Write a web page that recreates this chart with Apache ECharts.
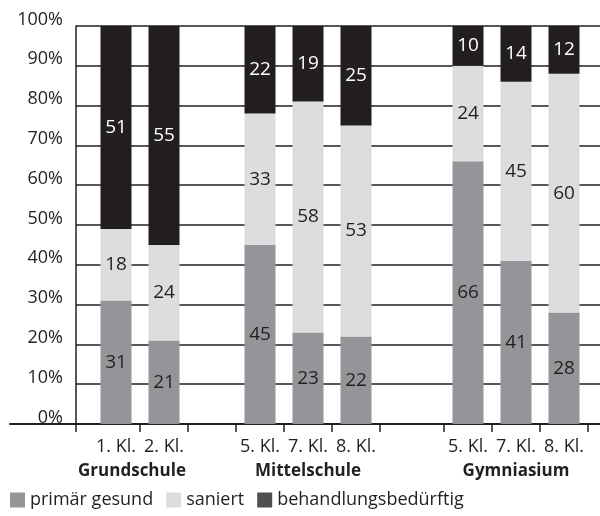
<!DOCTYPE html>
<html>
<head>
<meta charset="utf-8">
<script src="https://cdn.jsdelivr.net/npm/echarts@6/dist/echarts.min.js"></script>
<style>
  html, body { margin: 0; padding: 0; background: #fff; }
  #chart { width: 600px; height: 516px; }
</style>
</head>
<body>
<div id="chart"></div>
<script>
// Zahnstatus nach Schulart und Klassenstufe, Anteile in Prozent
const schools = ['Grundschule', 'Mittelschule', 'Gymniasium'];
const classesPerSchool = [
  ['1. Kl.', '2. Kl.'],
  ['5. Kl.', '7. Kl.', '8. Kl.'],
  ['5. Kl.', '7. Kl.', '8. Kl.']
];
const seriesNames = ['primär gesund', 'saniert', 'behandlungsbedürftig'];
const primaerGesund = [31, 21, 45, 23, 22, 66, 41, 28];
const saniert = [18, 24, 33, 58, 53, 24, 45, 60];
const behandlungsbeduerftig = [51, 55, 22, 19, 25, 10, 14, 12];
const percentMax = 100;
const percentStep = 10;

// Band axis layout: every class takes three narrow slots, schools are separated by empty slots
const SLOTS_PER_BAR = 3;
const LEAD_SLOTS = 1;
const GAP_SLOTS = [3, 4];
const TRAIL_SLOTS = 1;
const SLOT_PX = 16;

const INK = '#231f20';
const COLORS = ['#939598', '#dcddde', '#231f20'];
const FONT = '"Open Sans", "Noto Sans", sans-serif';

let slot = LEAD_SLOTS;
const barSlots = [];
const groupLabelSlots = [];
const tickSlots = new Set([0]);
classesPerSchool.forEach((cls, g) => {
  if (g > 0) { slot += GAP_SLOTS[g - 1]; tickSlots.add(slot); }
  const start = slot;
  cls.forEach(() => {
    barSlots.push(slot + 1);
    slot += SLOTS_PER_BAR;
    tickSlots.add(slot);
  });
  groupLabelSlots.push(Math.floor((start + slot - 1) / 2));
});
const slotCount = slot + TRAIL_SLOTS;

const classLabels = new Array(slotCount).fill('');
classesPerSchool.flat().forEach((c, i) => { classLabels[barSlots[i]] = c; });
const schoolLabels = new Array(slotCount).fill('');
schools.forEach((s, i) => { schoolLabels[groupLabelSlots[i]] = s; });

function spread(values) {
  const out = new Array(slotCount).fill(null);
  values.forEach((v, i) => { out[barSlots[i]] = v; });
  return out;
}

const seriesValues = [primaerGesund, saniert, behandlungsbeduerftig];
const labelColors = [INK, INK, '#ffffff'];

const chart = echarts.init(document.getElementById('chart'), null, { renderer: 'canvas' });

chart.setOption({
  animation: false,
  backgroundColor: '#ffffff',
  textStyle: { fontFamily: FONT },
  grid: [
    { left: 76, top: 26, bottom: 92, width: slotCount * SLOT_PX, containLabel: false, outerBoundsMode: 'none' },
    { left: 10, top: 26, bottom: 92, width: 66, containLabel: false, outerBoundsMode: 'none' }
  ],
  legend: {
    left: 10,
    top: 491,
    padding: 0,
    icon: 'rect',
    itemWidth: 15,
    itemHeight: 15,
    itemGap: 13,
    textStyle: { fontFamily: FONT, fontSize: 18, color: INK },
    data: seriesNames.map((n, i) => ({
      name: n,
      itemStyle: { color: i === 2 ? '#4f4f51' : COLORS[i] }
    }))
  },
  xAxis: [
    {
      type: 'category',
      gridIndex: 0,
      data: classLabels,
      boundaryGap: true,
      axisLine: { show: true, lineStyle: { color: INK, width: 2 } },
      axisTick: {
        show: true,
        interval: (index) => tickSlots.has(index),
        length: 8,
        lineStyle: { color: INK, width: 1.5 }
      },
      axisLabel: {
        interval: 0,
        margin: 14,
        fontFamily: FONT,
        fontSize: 18,
        color: INK
      },
      splitLine: { show: false }
    },
    {
      type: 'category',
      gridIndex: 0,
      position: 'bottom',
      data: schoolLabels,
      axisLine: { show: false },
      axisTick: { show: false },
      axisLabel: {
        interval: 0,
        margin: 39,
        fontFamily: FONT,
        fontSize: 17,
        fontWeight: 'bold',
        color: INK
      },
      splitLine: { show: false }
    },
    {
      type: 'value',
      gridIndex: 1,
      min: 0,
      max: 1,
      axisLine: { show: true, lineStyle: { color: INK, width: 2 } },
      axisTick: { show: false },
      axisLabel: { show: false },
      splitLine: { show: false }
    }
  ],
  yAxis: [
    {
      type: 'value',
      gridIndex: 0,
      min: 0,
      max: percentMax,
      interval: percentStep,
      axisLine: { show: true, lineStyle: { color: INK, width: 1.5 } },
      axisTick: { show: false },
      axisLabel: {
        formatter: '{value}%',
        margin: 13,
        fontFamily: FONT,
        fontSize: 18,
        color: INK,
        verticalAlign: 'bottom',
        lineHeight: 13
      },
      splitLine: { show: true, lineStyle: { color: INK, width: 1.5 } }
    },
    {
      type: 'value',
      gridIndex: 1,
      min: 0,
      max: 1,
      show: false
    }
  ],
  series: seriesValues.map((vals, i) => ({
    name: seriesNames[i],
    type: 'bar',
    xAxisIndex: 0,
    yAxisIndex: 0,
    stack: 'anteil',
    barWidth: 31,
    data: spread(vals),
    itemStyle: { color: COLORS[i] },
    label: {
      show: true,
      position: 'inside',
      fontFamily: FONT,
      fontSize: 19,
      color: labelColors[i],
      formatter: (p) => (p.value == null ? '' : String(p.value))
    },
    emphasis: { disabled: true }
  }))
});
</script>
</body>
</html>
